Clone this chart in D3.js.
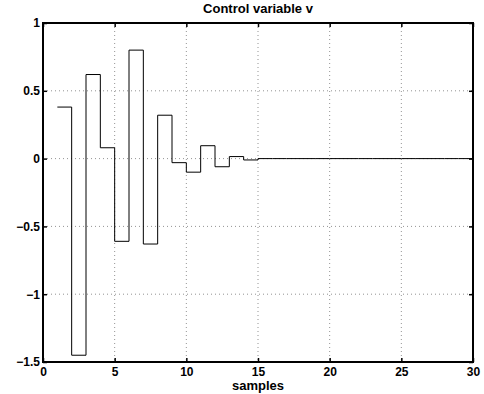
<!DOCTYPE html>
<html>
<head>
<meta charset="utf-8">
<script src="https://cdn.jsdelivr.net/npm/d3@7"></script>
<style>
  body { margin: 0; background: #fff; }
  text { font-family: "Liberation Sans", Arial, sans-serif; font-weight: bold; }
</style>
</head>
<body>
<div id="chart"></div>
<script>
// stairs data, one value per sample
let samples = d3.range(1, 31);
let controlV = [0.38, -1.45, 0.62, 0.08, -0.61, 0.80, -0.63, 0.32, -0.03, -0.10,
  0.095, -0.06, 0.015, -0.01, 0, 0, 0, 0, 0, 0,
  0, 0, 0, 0, 0, 0, 0, 0, 0, 0];
let xTicks = [0, 5, 10, 15, 20, 25, 30];
let yTicks = [-1.5, -1, -0.5, 0, 0.5, 1];

let svgWidth = 484;
let svgHeight = 394;
let margin = { top: 23, right: 11, bottom: 32, left: 43 };
let width = svgWidth - margin.left - margin.right;
let height = svgHeight - margin.top - margin.bottom;

let svg = d3.select("#chart").append("svg")
  .attr("width", svgWidth)
  .attr("height", svgHeight);

let g = svg.append("g")
  .attr("transform", `translate(${margin.left}, ${margin.top})`);

let x = d3.scaleLinear().domain([0, 30]).range([0, width]);
let y = d3.scaleLinear().domain([-1.5, 1]).range([height, 0]);

// dotted grid
g.selectAll(".gx").data(xTicks.slice(1, -1)).enter().append("line")
  .attr("x1", d => x(d)).attr("x2", d => x(d))
  .attr("y1", 0).attr("y2", height)
  .attr("stroke", "#777").attr("stroke-width", 0.8)
  .attr("stroke-dasharray", "1,3");
g.selectAll(".gy").data(yTicks.slice(1, -1)).enter().append("line")
  .attr("y1", d => y(d)).attr("y2", d => y(d))
  .attr("x1", 0).attr("x2", width)
  .attr("stroke", "#777").attr("stroke-width", 0.8)
  .attr("stroke-dasharray", "1,3");

// stairs line
let data = samples.map((s, i) => [s, controlV[i]]);
let line = d3.line()
  .x(d => x(d[0]))
  .y(d => y(d[1]))
  .curve(d3.curveStepAfter);
g.append("path")
  .datum(data)
  .attr("fill", "none")
  .attr("stroke", "#000")
  .attr("stroke-width", 1)
  .attr("d", line);

// axes, ticks inside like matlab
let tl = 4;
g.append("g").attr("transform", `translate(0, ${height})`)
  .call(d3.axisBottom(x).tickValues(xTicks).tickSizeInner(-tl).tickSizeOuter(0).tickPadding(5))
  .call(a => a.select(".domain").remove());
g.append("g")
  .call(d3.axisTop(x).tickValues(xTicks).tickSizeInner(-tl).tickSizeOuter(0).tickFormat(""))
  .call(a => a.select(".domain").remove());
g.append("g")
  .call(d3.axisLeft(y).tickValues(yTicks).tickSizeInner(-tl).tickSizeOuter(0).tickPadding(3)
    .tickFormat(d => d3.format("")(d).replace("-", "\u2212")))
  .call(a => a.select(".domain").remove());
g.append("g").attr("transform", `translate(${width}, 0)`)
  .call(d3.axisRight(y).tickValues(yTicks).tickSizeInner(-tl).tickSizeOuter(0).tickFormat(""))
  .call(a => a.select(".domain").remove());

g.selectAll(".tick text")
  .attr("font-size", "12px")
  .attr("font-family", "Liberation Sans, Arial, sans-serif")
  .attr("font-weight", "bold")
  .attr("fill", "#000");
g.selectAll(".tick line").attr("stroke", "#000").attr("stroke-width", 1.5);

// box
g.append("rect")
  .attr("width", width).attr("height", height)
  .attr("fill", "none").attr("stroke", "#000").attr("stroke-width", 2);

// title and label
svg.append("text")
  .attr("x", margin.left + width / 2).attr("y", 13)
  .attr("text-anchor", "middle").attr("font-size", "13px")
  .text("Control variable v");
svg.append("text")
  .attr("x", margin.left + width / 2).attr("y", 390)
  .attr("text-anchor", "middle").attr("font-size", "13px")
  .text("samples");
</script>
</body>
</html>
